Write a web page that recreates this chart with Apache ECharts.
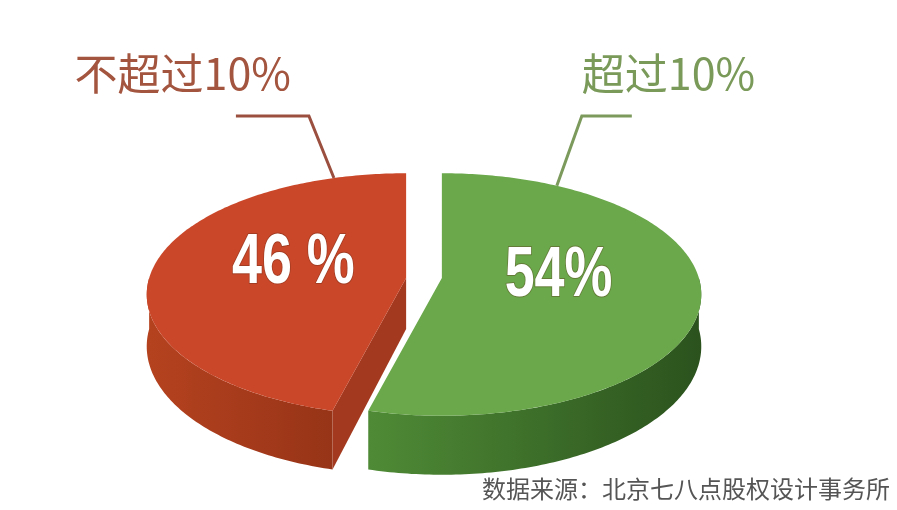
<!DOCTYPE html>
<html>
<head>
<meta charset="utf-8">
<script src="https://cdn.jsdelivr.net/npm/echarts@6/dist/echarts.min.js"></script>
<style>
  html, body { margin: 0; background: #fff; }
  #main { width: 897px; height: 510px; }
</style>
</head>
<body>
<div id="main"></div>
<script>
// 数据：从顶部顺时针排列
var categories = ['超过10%', '不超过10%'];
var values = [54, 46];
var valueLabels = ['54%', '46 %'];
var sourceText = '数据来源：北京七八点股权设计事务所';

// 样式
var topColors = ['#6aa84b', '#ca472a'];
var wallColors = [['#4f8b36', '#2b521d'], ['#b5421f', '#973417']];
var cutColors = ['#3e7229', '#a3391e'];
var titleColors = ['#7a9a5a', '#a4553f'];
var lineColors = ['#7b9a5c', '#9b4f3e'];
var leaderOffset = [30, -18.5];   // 引线在边缘上的位置（度，相对扇区起/止边）

// 伪 3D 椭圆参数
var CX = 424, CY = 278, RX = 257, RY = 119, H = 51, K = 0.136, EXPLODE = 18;

function proj(cx, cy, a, down) {
    var p = 1 / (1 + K * Math.cos(a));
    return [cx + RX * Math.sin(a) * p, cy - RY * Math.cos(a) * p + (down ? H * p : 0)];
}
function arc(cx, cy, a0, a1, down) {
    var pts = [];
    var n = Math.max(2, Math.ceil((a1 - a0) / 0.015));
    for (var i = 0; i <= n; i++) pts.push(proj(cx, cy, a0 + (a1 - a0) * i / n, down));
    return pts;
}

var total = values.reduce(function (s, v) { return s + v; }, 0);

function renderItem(params, api) {
    var idx = params.dataIndex;
    var before = 0;
    for (var i = 0; i < idx; i++) before += values[i];
    var a0 = before / total * Math.PI * 2;
    var a1 = (before + api.value(0)) / total * Math.PI * 2;
    var mid = (a0 + a1) / 2;
    var cx = CX + EXPLODE * Math.sin(mid);
    var cy = CY;
    var children = [];

    // 侧面（外弧可见部分）
    var w0 = Math.max(a0, Math.PI / 2), w1 = Math.min(a1, Math.PI * 1.5);
    if (w1 > w0) {
        var topPts = arc(cx, cy, w0, w1, false);
        var botPts = arc(cx, cy, w0, w1, true).reverse();
        children.push({
            type: 'polygon',
            shape: { points: topPts.concat(botPts) },
            style: {
                fill: new echarts.graphic.LinearGradient(0, 0, 1, 0, [
                    { offset: 0, color: wallColors[idx][0] },
                    { offset: 1, color: wallColors[idx][1] }
                ])
            }
        });
    }
    // 切面
    function cut(a) {
        var p = proj(cx, cy, a, false), pb = proj(cx, cy, a, true);
        children.push({
            type: 'polygon',
            shape: { points: [[cx, cy], p, pb, [cx, cy + H]] },
            style: { fill: cutColors[idx] }
        });
    }
    if (Math.sin(a0) < -1e-6) cut(a0);
    if (Math.sin(a1) > 1e-6) cut(a1);

    // 顶面
    children.push({
        type: 'polygon',
        shape: { points: [[cx, cy]].concat(arc(cx, cy, a0, a1, false)) },
        style: { fill: topColors[idx] }
    });

    // 数值标签（横向压缩成窄体字）
    var lp = 1 / (1 + K * Math.cos(mid));
    children.push({
        type: 'text',
        x: cx + RX * 0.45 * Math.sin(mid) * lp,
        y: cy - RY * 0.45 * Math.cos(mid) * lp - 8,
        scaleX: 0.77,
        style: {
            text: valueLabels[idx],
            x: 0,
            y: 0,
            align: 'center',
            verticalAlign: 'middle',
            fontFamily: '"Liberation Sans", Arial, sans-serif',
            fontWeight: 'bold',
            fontSize: 70,
            fill: '#ffffff',
            stroke: 'rgba(90,40,20,0.35)',
            lineWidth: 2
        }
    });

    // 引线与分类标题
    var off = leaderOffset[idx] * Math.PI / 180;
    var anchor = proj(cx, cy, off > 0 ? a0 + off : a1 + off, false);
    var dir = Math.sin(mid) > 0 ? 1 : -1;
    var elbow = [anchor[0] + dir * 25, 116];
    var tail = [elbow[0] + dir * (dir > 0 ? 50 : 73), 116];
    children.push({
        type: 'polyline',
        shape: { points: [anchor, elbow, tail] },
        style: { stroke: lineColors[idx], lineWidth: 3, fill: null }
    });
    children.push({
        type: 'text',
        style: {
            text: categories[idx],
            x: dir > 0 ? elbow[0] : elbow[0] - 18,
            y: elbow[1] - 42,
            align: dir > 0 ? 'left' : 'right',
            verticalAlign: 'middle',
            fontFamily: '"Noto Sans CJK SC", sans-serif',
            fontSize: 43,
            fill: titleColors[idx]
        }
    });

    return { type: 'group', children: children };
}

var chart = echarts.init(document.getElementById('main'));
chart.setOption({
    backgroundColor: '#ffffff',
    animation: false,
    graphic: [{
        type: 'text',
        right: 7,
        top: 477,
        style: {
            text: sourceText,
            fontFamily: '"Noto Sans CJK SC", sans-serif',
            fontSize: 24,
            fill: '#555555'
        }
    }],
    series: [{
        type: 'custom',
        coordinateSystem: 'none',
        silent: true,
        renderItem: renderItem,
        data: values.map(function (v, i) { return { name: categories[i], value: [v, i] }; })
    }]
});
</script>
</body>
</html>
